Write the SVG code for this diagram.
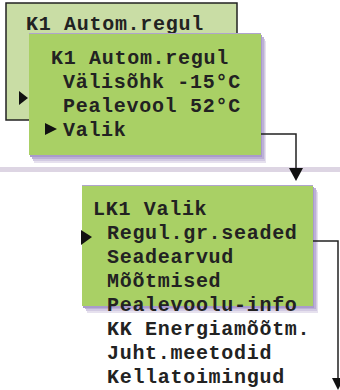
<svg xmlns="http://www.w3.org/2000/svg" width="340" height="390" viewBox="0 0 340 390">
<defs>
<style>
.t{font-family:"Liberation Mono","Courier New",monospace;font-weight:bold;font-size:20px;letter-spacing:0.7px;fill:#222}
.conn{fill:none;stroke:#222;stroke-width:1.5}
.head{fill:#111}
.s4{fill:#e6e1ee}
.s3{fill:#d2cae2}
.s2{fill:#bcb0d6}
.s1{fill:#a99bcb}
.green{fill:#a9d065}
</style>
</defs>
<rect x="0" y="0" width="340" height="390" fill="#fff"/>
<rect x="0" y="167" width="340" height="5" fill="#ddd5e3"/>
<g id="panel-back">
<rect x="6" y="3" width="231" height="117" fill="#c9dda5" stroke="#222" stroke-width="1.5"/>
<text class="t" x="26" y="30">K1 Autom.regul</text>
<polygon points="19,91 28,98 19,105" fill="#111"/>
</g>
<g id="panel-front">
<rect class="s4" x="34" y="41" width="232" height="122"/>
<rect class="s3" x="33" y="39" width="232" height="122"/>
<rect class="s2" x="32" y="37" width="232" height="122"/>
<rect class="s1" x="30" y="35" width="232" height="122"/>
<rect class="green" x="29" y="33" width="232" height="122"/>
<line x1="29" y1="33.5" x2="261" y2="33.5" stroke="#b0a4cc" stroke-width="1"/>
<text class="t" x="51" y="64">K1 Autom.regul</text>
<text class="t" x="63" y="88">Välisõhk -15°C</text>
<text class="t" x="63" y="112">Pealevool 52°C</text>
<polygon points="45,123 57,129 45,135" fill="#111"/>
<text class="t" x="63" y="136">Valik</text>
</g>
<g id="panel-lk1">
<rect class="s4" x="87" y="192" width="231" height="121"/>
<rect class="s3" x="86" y="190" width="231" height="121"/>
<rect class="s2" x="85" y="188" width="231" height="121"/>
<rect class="s1" x="83" y="187" width="231" height="121"/>
<rect class="green" x="82" y="185" width="231" height="121"/>
<line x1="82" y1="185.5" x2="313" y2="185.5" stroke="#b0a4cc" stroke-width="1"/>
<text class="t" x="93" y="215">LK1 Valik</text>
<polygon points="81,230 92,237 81,245" fill="#111"/>
<text class="t" x="107" y="239">Regul.gr.seaded</text>
<text class="t" x="107" y="263">Seadearvud</text>
<text class="t" x="107" y="287">Mõõtmised</text>
<text class="t" x="107" y="311">Pealevoolu-info</text>
<text class="t" x="107" y="335">KK Energiamõõtm.</text>
<text class="t" x="107" y="359">Juht.meetodid</text>
<text class="t" x="107" y="383">Kellatoimingud</text>
</g>
<g id="connectors">
<path class="conn" d="M261 134 H296 V170"/>
<polygon class="head" points="289,168 303,168 296,181"/>
<path class="conn" d="M313 241 H338 V380"/>
<polygon class="head" points="332,378 344,378 338,390"/>
</g>
</svg>
